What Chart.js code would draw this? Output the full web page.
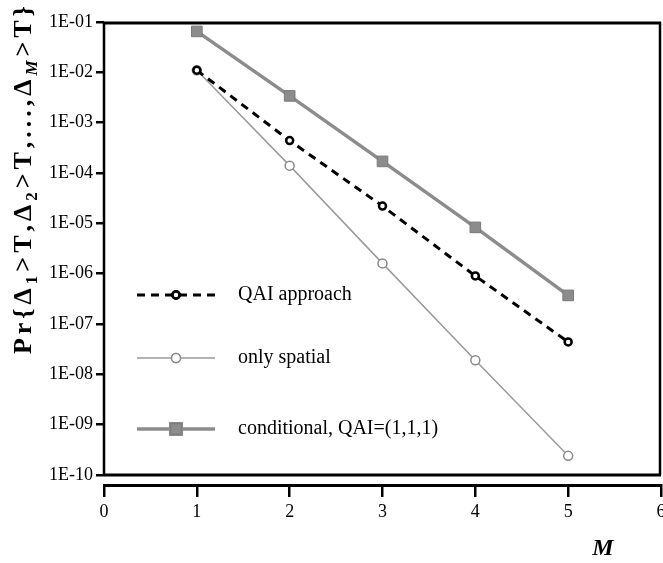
<!DOCTYPE html>
<html>
<head>
<meta charset="utf-8">
<script src="https://cdn.jsdelivr.net/npm/chart.js@4/dist/chart.umd.min.js"></script>
<style>
  html, body { margin: 0; padding: 0; background: #fff; overflow: hidden; }
  #contenedor { width: 663px; height: 563px; position: relative; }
</style>
</head>
<body>
<div id="contenedor"><canvas id="grafico"></canvas></div>
<script>
// Datos
const valoresM = [1, 2, 3, 4, 5];
const qaiApproach = [1.1e-2, 4.4e-4, 2.2e-5, 9.0e-7, 4.4e-8];
const onlySpatial = [1.1e-2, 1.4e-4, 1.6e-6, 1.9e-8, 2.4e-10];
const conditional = [6.5e-2, 3.4e-3, 1.7e-4, 8.3e-6, 3.7e-7];
const nombresSeries = ["QAI approach", "only spatial", "conditional, QAI=(1,1,1)"];
const ticksX = [0, 1, 2, 3, 4, 5, 6];
const ticksY = [1e-10, 1e-9, 1e-8, 1e-7, 1e-6, 1e-5, 1e-4, 1e-3, 1e-2, 1e-1];

const fuente = "'Liberation Serif', 'DejaVu Serif', serif";
const gris = "#8c8c8c";

function puntos(valores) {
  return valoresM.map((m, i) => ({ x: m, y: valores[i] }));
}

// Marco del gráfico (caja cerrada en 1E-10, eje x separado debajo)
const marco = {
  id: "marco",
  afterDatasetsDraw(chart) {
    const { ctx, chartArea, scales } = chart;
    const yInf = scales.y.getPixelForValue(ticksY[0]);
    ctx.save();
    ctx.strokeStyle = "#000";
    ctx.lineWidth = 3;
    ctx.beginPath();
    ctx.moveTo(chartArea.left, chartArea.top + 1);
    ctx.lineTo(chartArea.right, chartArea.top + 1);
    ctx.moveTo(chartArea.left, yInf);
    ctx.lineTo(chartArea.right, yInf);
    ctx.stroke();
    ctx.lineWidth = 2.5;
    ctx.beginPath();
    ctx.moveTo(chartArea.left, chartArea.top);
    ctx.lineTo(chartArea.left, yInf);
    ctx.moveTo(chartArea.right - 1, chartArea.top);
    ctx.lineTo(chartArea.right - 1, yInf);
    ctx.stroke();
    ctx.restore();
  }
};

// Leyenda dentro del área, a la izquierda
const leyenda = {
  id: "leyenda",
  afterDraw(chart) {
    const { ctx } = chart;
    const filas = [295, 358, 429];
    const x0 = 137, x1 = 215, xt = 238;
    chart.data.datasets.forEach((ds, i) => {
      const y = filas[i];
      ctx.save();
      ctx.strokeStyle = ds.borderColor;
      ctx.lineWidth = ds.borderWidth;
      ctx.setLineDash(ds.borderDash || []);
      ctx.beginPath();
      ctx.moveTo(x0, y);
      ctx.lineTo(x1, y);
      ctx.stroke();
      ctx.setLineDash([]);
      Chart.helpers.drawPoint(ctx, {
        pointStyle: ds.pointStyle,
        radius: ds.pointRadius,
        borderWidth: ds.pointBorderWidth,
        rotation: 0
      }, (x0 + x1) / 2, y);
      ctx.fillStyle = ds.pointBackgroundColor;
      ctx.strokeStyle = ds.pointBorderColor;
      ctx.lineWidth = ds.pointBorderWidth;
      ctx.fill();
      ctx.stroke();
      ctx.fillStyle = "#000";
      ctx.font = "20px " + fuente;
      ctx.textBaseline = "middle";
      ctx.textAlign = "left";
      ctx.fillText(ds.label, xt, y);
      ctx.restore();
    });
  }
};

// Títulos de los ejes (con subíndices)
const titulos = {
  id: "titulos",
  afterDraw(chart) {
    const { ctx } = chart;
    const partes = [
      { t: "Pr{Δ" }, { t: "1", sub: true }, { t: ">T,Δ" }, { t: "2", sub: true },
      { t: ">T,...,Δ" }, { t: "M", sub: true, it: true }, { t: ">T}" }
    ];
    const tam = 26, tamSub = 17;
    const fontDe = (p) => (p.it ? "italic bold " : "bold ") + (p.sub ? tamSub : tam) + "px " + fuente;
    ctx.save();
    let natural = 0, nChars = 0;
    partes.forEach(p => {
      ctx.font = fontDe(p);
      natural += ctx.measureText(p.t).width;
      nChars += [...p.t].length;
    });
    const largo = 344;
    const extra = (largo - natural) / (nChars - 1);
    const yc = 182, xc = 31;
    ctx.translate(xc, yc);
    ctx.rotate(-Math.PI / 2);
    ctx.fillStyle = "#000";
    ctx.textBaseline = "alphabetic";
    ctx.textAlign = "left";
    let x = -largo / 2;
    partes.forEach(p => {
      ctx.font = fontDe(p);
      for (const c of p.t) {
        ctx.fillText(c, x, p.sub ? 6 : 0);
        x += ctx.measureText(c).width + extra;
      }
    });
    ctx.restore();

    ctx.save();
    ctx.fillStyle = "#000";
    ctx.font = "italic bold 24px " + fuente;
    ctx.textAlign = "center";
    ctx.textBaseline = "middle";
    ctx.fillText("M", 603, 549);
    ctx.restore();
  }
};

new Chart(document.getElementById("grafico"), {
  type: "scatter",
  data: {
    datasets: [
      {
        label: nombresSeries[0],
        data: puntos(qaiApproach),
        showLine: true,
        borderColor: "#000",
        borderWidth: 3,
        borderDash: [8, 6],
        pointStyle: "circle",
        pointRadius: 3.5,
        pointBorderWidth: 2.5,
        pointBorderColor: "#000",
        pointBackgroundColor: "#fff"
      },
      {
        label: nombresSeries[1],
        data: puntos(onlySpatial),
        showLine: true,
        borderColor: "#9a9a9a",
        borderWidth: 1.5,
        pointStyle: "circle",
        pointRadius: 4.5,
        pointBorderWidth: 1.5,
        pointBorderColor: "#8a8a8a",
        pointBackgroundColor: "#fff"
      },
      {
        label: nombresSeries[2],
        data: puntos(conditional),
        showLine: true,
        borderColor: gris,
        borderWidth: 3.5,
        pointStyle: "rect",
        pointRadius: 7.5,
        pointBorderWidth: 1,
        pointBorderColor: "#7a7a7a",
        pointBackgroundColor: gris
      }
    ]
  },
  options: {
    responsive: true,
    maintainAspectRatio: false,
    animation: false,
    layout: { autoPadding: false, padding: { left: 4, right: 2, top: 22, bottom: 0 } },
    plugins: { legend: { display: false }, tooltip: { enabled: false } },
    scales: {
      x: {
        type: "linear",
        position: "bottom",
        min: 0,
        max: 6,
        afterBuildTicks: (s) => { s.ticks = ticksX.map(v => ({ value: v })); },
        afterFit: (s) => { s.paddingLeft = 0; s.paddingRight = 0; s.height = 78; },
        grid: { drawOnChartArea: false, tickLength: 12, color: "#000", lineWidth: 2.5 },
        border: { display: true, color: "#000", width: 3 },
        ticks: { color: "#000", font: { family: fuente, size: 18 }, padding: 4, maxRotation: 0 }
      },
      y: {
        type: "logarithmic",
        min: Math.pow(10, -10 - 10 / 50.22),
        max: 1e-1,
        afterBuildTicks: (s) => { s.ticks = ticksY.map(v => ({ value: v })); },
        afterFit: (s) => { s.width = 100; },
        grid: { drawOnChartArea: false, tickLength: 8, color: "#000", lineWidth: 2.5 },
        border: { display: false },
        ticks: {
          color: "#000",
          font: { family: fuente, size: 18 },
          padding: 3,
          callback: (v) => "1E-" + String(-Math.round(Math.log10(v))).padStart(2, "0")
        }
      }
    }
  },
  plugins: [marco, leyenda, titulos]
});
</script>
</body>
</html>
